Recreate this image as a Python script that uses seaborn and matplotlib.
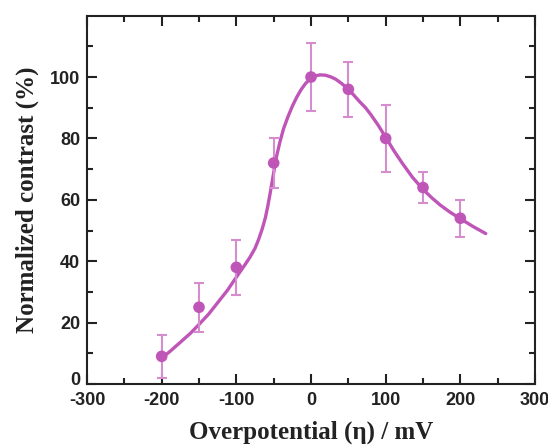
import matplotlib
matplotlib.use("Agg")
import matplotlib.pyplot as plt
import matplotlib.transforms as mtransforms
import seaborn as sns
import pandas as pd
from matplotlib.ticker import MultipleLocator, FixedLocator

sns.set_theme(style="ticks")
plt.rcParams["axes.unicode_minus"] = False

# measured points
overpotential = [-200, -150, -100, -50, 0, 50, 100, 150, 200]
contrast = [9, 25, 38, 72, 100, 96, 80, 64, 54]
err = [7, 8, 9, 8, 11, 9, 11, 5, 6]

# fitted curve
fit_x = [-201, -188, -175, -162, -150, -137, -125, -112, -100, -90, -82, -75, -70, -65, -61, -58, -55, -52, -49, -46, -42, -37, -31, -25, -19, -13, -7, 0, 6, 12, 19, 26, 33, 41, 49, 57, 65, 73, 80, 90, 101, 111, 122, 136, 150, 162, 173, 186, 199, 217, 234]
fit_y = [8.2, 10.8, 13.6, 16.4, 19.4, 22.8, 26.5, 30.5, 34.8, 38.3, 41.2, 44.2, 47.2, 50.8, 54.3, 57.8, 61.8, 66, 70.3, 74.3, 78.5, 83, 87, 90.5, 93.5, 96, 98, 99.6, 100.4, 100.7, 100.6, 100.1, 99.3, 97.9, 96.2, 94.2, 92, 90, 87.8, 84.3, 80, 76, 72, 67.3, 63.4, 60.6, 58.3, 56, 54, 51.3, 49]

color = "#C055B8"

fig = plt.figure(figsize=(5.48, 4.47), dpi=100)
ax = fig.add_axes([0.1588, 0.141, 0.8175, 0.824])

fit_df = pd.DataFrame({"x": fit_x, "y": fit_y})
sns.lineplot(data=fit_df, x="x", y="y", ax=ax, color=color, lw=2.4, sort=True)

pts = pd.DataFrame({"x": overpotential, "y": contrast})
ax.errorbar(overpotential, contrast, yerr=err, fmt="none", ecolor="#D68DCF",
            elinewidth=1.5, capsize=3.5, capthick=1.5, zorder=3)
sns.scatterplot(data=pts, x="x", y="y", ax=ax, color=color, s=70,
                edgecolor="none", zorder=4)

ax.set_xlim(-300, 300)
ax.set_ylim(0, 120)
ax.xaxis.set_major_locator(MultipleLocator(100))
ax.xaxis.set_minor_locator(MultipleLocator(50))
ax.yaxis.set_major_locator(FixedLocator([0, 20, 40, 60, 80, 100]))
ax.yaxis.set_minor_locator(FixedLocator([10, 30, 50, 70, 90, 110]))
ax.tick_params(which="both", direction="in", top=True, right=True, width=1.5, colors="#222222")
ax.tick_params(which="major", length=7, labelsize=13)
ax.tick_params(which="minor", length=4)
ax.tick_params(axis="x", which="major", pad=6)
ax.tick_params(axis="y", which="major", pad=5)
for lab in ax.get_xticklabels() + ax.get_yticklabels():
    lab.set_fontfamily("Liberation Sans")
    lab.set_fontweight("bold")
    lab.set_color("#222222")
for s in ax.spines.values():
    s.set_linewidth(1.5)
    s.set_color("#222222")

# lift the "0" label slightly, as in the reference
fig.canvas.draw()
ylabs = ax.get_yticklabels()
ylabs[0].set_transform(ylabs[0].get_transform() +
                       mtransforms.ScaledTranslation(0, 4 / 72, fig.dpi_scale_trans))

ax.set_xlabel("Overpotential (η) / mV", fontfamily="Liberation Serif", fontweight="bold",
              fontsize=18, color="#222222", labelpad=8)
ax.set_ylabel("Normalized contrast (%)", fontfamily="Liberation Serif", fontweight="bold",
              fontsize=18, color="#222222", labelpad=8)

fig.savefig("out.png", dpi=100)
